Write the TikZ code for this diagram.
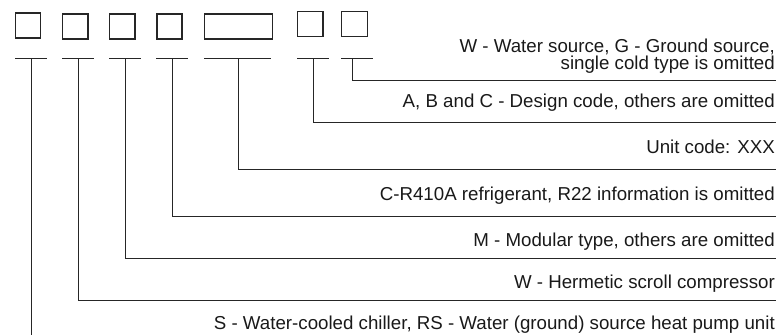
\documentclass[tikz,border=0pt]{standalone}
\usepackage{fontspec}
\setmainfont{Liberation Sans}
\begin{document}
\begin{tikzpicture}[x=1pt,y=-1pt,
  codebox/.style={draw=black!85,line width=1.3pt,inner sep=0pt,minimum height=25pt},
  bar/.style={draw=black!85,line width=1pt},
  conn/.style={draw=black!85,line width=1pt},
  lbl/.style={anchor=base east,inner sep=0pt,font=\fontsize{18.7}{17}\selectfont,text=black!90,align=right}]
\useasboundingbox (0,0) rectangle (777,335);
% boxes
\node[codebox,minimum width=25pt,anchor=north west] (b1) at (15,12.3) {};
\node[codebox,minimum width=25.5pt,anchor=north west] (b2) at (61.8,13.3) {};
\node[codebox,minimum width=25.3pt,anchor=north west] (b3) at (109,13.3) {};
\node[codebox,minimum width=25pt,anchor=north west] (b4) at (156.3,13.3) {};
\node[codebox,minimum width=68pt,anchor=north west] (b5) at (204,13.3) {};
\node[codebox,minimum width=25.5pt,anchor=north west] (b6) at (296.8,11) {};
\node[codebox,minimum width=25.5pt,anchor=north west] (b7) at (341,11) {};
% bars
\coordinate (l1) at (15,58);  \coordinate (r1) at (47,58);  \coordinate (c1) at (31,58);
\coordinate (l2) at (62,58);  \coordinate (r2) at (94,58);  \coordinate (c2) at (78,58);
\coordinate (l3) at (109,58); \coordinate (r3) at (141,58); \coordinate (c3) at (125,58);
\coordinate (l4) at (156,58); \coordinate (r4) at (188,58); \coordinate (c4) at (172,58);
\coordinate (l5) at (204,58); \coordinate (r5) at (271,58); \coordinate (c5) at (238,58);
\coordinate (l6) at (297,58); \coordinate (r6) at (329,58); \coordinate (c6) at (313,58);
\coordinate (l7) at (341,58); \coordinate (r7) at (373,58); \coordinate (c7) at (352,58);
\foreach \i in {1,...,7} {\draw[bar] (l\i) -- (r\i);}
% line ends
\coordinate (e7) at (776,80);
\coordinate (e6) at (776,122);
\coordinate (e5) at (776,169);
\coordinate (e4) at (776,216);
\coordinate (e3) at (776,258);
\coordinate (e2) at (776,300);
\coordinate (e1) at (31,335);
\foreach \i in {2,...,7} {\draw[conn] (c\i) |- (e\i);}
\draw[conn] (c1) -- (e1);
% labels
\node[lbl] (t7) at (775,69) {W - Water source, G - Ground source,\\single cold type is omitted};
\node[lbl] (t6) at (775,107) {A, B and C - Design code, others are omitted};
\node[lbl] (t5) at (775,153) {Unit code: XXX};
\node[lbl] (t4) at (775,200) {C-R410A refrigerant, R22 information is omitted};
\node[lbl] (t3) at (775,246) {M - Modular type, others are omitted};
\node[lbl] (t2) at (775,288) {W - Hermetic scroll compressor};
\node[lbl] (t1) at (775,329) {S - Water-cooled chiller, RS - Water (ground) source heat pump unit};
\end{tikzpicture}
\end{document}
